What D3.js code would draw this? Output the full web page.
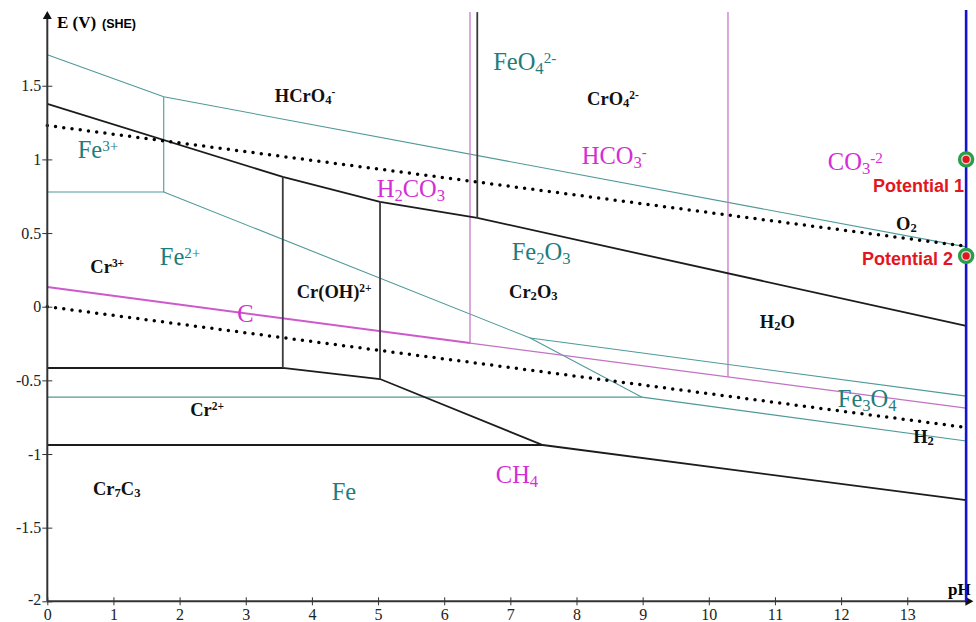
<!DOCTYPE html>
<html>
<head>
<meta charset="utf-8">
<script src="https://cdn.jsdelivr.net/npm/d3@7"></script>
<style>
  body { margin: 0; background: #fff; }
</style>
</head>
<body>
<div id="chart"></div>
<script>
// axis ticks
var phTicks = [0, 1, 2, 3, 4, 5, 6, 7, 8, 9, 10, 11, 12, 13];
var eTicks = [1.5, 1, 0.5, 0, -0.5, -1, -1.5, -2];

// Cr boundaries [pH, E]
var crUpper = [[0, 1.377], [3.56, 0.881], [5.03, 0.711], [6.50, 0.603], [13.89, -0.131]];
var crLower = [[0, -0.416], [3.56, -0.416], [5.03, -0.491], [7.49, -0.939], [13.89, -1.313]];
var crBase = [[0, -0.939], [7.49, -0.939]];
var crV1 = [[3.56, 0.881], [3.56, -0.416]];
var crV2 = [[5.03, 0.711], [5.03, -0.491]];
var crV3 = [[6.50, 2.0], [6.50, 0.603]];

// Fe boundaries
var feTop = [[0, 1.71], [1.76, 1.425], [13.89, 0.406]];
var feV = [[1.76, 1.425], [1.76, 0.779]];
var feH1 = [[0, 0.779], [1.76, 0.779]];
var feMid = [[1.76, 0.779], [7.30, -0.213], [8.99, -0.614], [13.89, -0.912]];
var feOx = [[7.30, -0.213], [13.89, -0.607]];
var feH2 = [[0, -0.614], [8.99, -0.614]];

// C boundaries
var cLeft = [[0, 0.134], [6.39, -0.247]];
var cRight = [[6.39, -0.247], [13.89, -0.688]];
var cV1 = [[6.39, -0.247], [6.39, 2.0]];
var cV2 = [[10.29, -0.478], [10.29, 2.0]];

// water stability lines
var waterO2 = [[0, 1.23], [13.89, 0.41]];
var waterH2 = [[0, 0], [13.89, -0.82]];

// measurement
var measurePH = 13.89;
var potentials = [1.0, 0.345];
var potentialNames = ["Potential 1", "Potential 2"];

// region labels
var labels = [
  { t: "HCrO_{4}^{-}", ph: 3.44, e: 1.39, kind: "cr" },
  { t: "CrO_{4}^{2-}", ph: 8.16, e: 1.37, kind: "cr" },
  { t: "O_{2}", ph: 12.83, e: 0.521, kind: "cr" },
  { t: "Cr^{3+}", ph: 0.65, e: 0.229, kind: "cr" },
  { t: "Cr(OH)^{2+}", ph: 3.77, e: 0.059, kind: "cr" },
  { t: "Cr_{2}O_{3}", ph: 6.98, e: 0.059, kind: "cr" },
  { t: "H_{2}O", ph: 10.77, e: -0.145, kind: "cr" },
  { t: "Cr^{2+}", ph: 2.16, e: -0.742, kind: "cr" },
  { t: "H_{2}", ph: 13.09, e: -0.925, kind: "cr" },
  { t: "Cr_{7}C_{3}", ph: 0.69, e: -1.279, kind: "cr" },
  { t: "FeO_{4}^{2-}", ph: 6.74, e: 1.607, kind: "fe" },
  { t: "Fe^{3+}", ph: 0.46, e: 1.009, kind: "fe" },
  { t: "Fe^{2+}", ph: 1.70, e: 0.283, kind: "fe" },
  { t: "Fe_{2}O_{3}", ph: 7.02, e: 0.317, kind: "fe" },
  { t: "Fe_{3}O_{4}", ph: 11.95, e: -0.681, kind: "fe" },
  { t: "Fe", ph: 4.30, e: -1.312, kind: "fe" },
  { t: "HCO_{3}^{-}", ph: 8.08, e: 0.969, kind: "c" },
  { t: "CO_{3}^{-2}", ph: 11.80, e: 0.928, kind: "c" },
  { t: "H_{2}CO_{3}", ph: 4.98, e: 0.745, kind: "c" },
  { t: "C", ph: 2.87, e: -0.104, kind: "c" },
  { t: "CH_{4}", ph: 6.78, e: -1.197, kind: "c" }
];

var W = 976, H = 622;
var serif = "'Liberation Serif', 'Times New Roman', serif";
var sans = "'Liberation Sans', Arial, sans-serif";

var svg = d3.select("#chart").append("svg")
  .attr("width", W).attr("height", H)
  .attr("font-family", serif);

var x = d3.scaleLinear().domain([0, 14]).range([47.3, 973.4]);
var y = d3.scaleLinear().domain([-2, 2]).range([601.3, 12.1]);

var line = d3.line().x(function (d) { return x(d[0]); }).y(function (d) { return y(d[1]); });

function draw(data, color, width) {
  return svg.append("path")
    .attr("d", line(data))
    .attr("fill", "none")
    .attr("stroke", color)
    .attr("stroke-width", width);
}

// Fe lines (teal)
var teal = "#4f9999";
[feTop, feV, feH1, feMid, feOx, feH2].forEach(function (d) { draw(d, teal, 1.1); });

// C lines (magenta)
draw(cLeft, "#cc5acc", 2);
draw(cRight, "#c272c2", 1.3);
draw(cV1, "#c67ac6", 1.3);
draw(cV2, "#c67ac6", 1.3);

// Cr lines (black)
[crUpper, crLower, crBase].forEach(function (d) { draw(d, "#1c1c1c", 1.8); });
[crV1, crV2, crV3].forEach(function (d) { draw(d, "#3a3a3a", 1.8); });

// water lines, dotted
[waterO2, waterH2].forEach(function (d) {
  draw(d, "#000", 3.5)
    .attr("stroke-dasharray", "0 8.3")
    .attr("stroke-linecap", "round");
});

// axes
var axisColor = "#333";
var xAxis = svg.append("g")
  .attr("transform", "translate(0," + y(-2) + ")")
  .call(d3.axisBottom(x).tickValues(phTicks).tickFormat(function (d) { return String(d); }).tickSize(4))
  .attr("font-family", serif).attr("font-size", 16);
xAxis.select(".domain").remove();
xAxis.selectAll(".tick line").attr("y1", -4).attr("stroke", axisColor);
xAxis.selectAll(".tick text")
  .attr("y", 7).attr("dy", "0.71em")
  .attr("fill", "#222");

var yAxis = svg.append("g")
  .attr("transform", "translate(" + x(0) + ",0)")
  .call(d3.axisLeft(y).tickValues(eTicks).tickFormat(function (d) { return String(d); }).tickSize(5))
  .attr("font-family", serif).attr("font-size", 16);
yAxis.select(".domain").remove();
yAxis.selectAll(".tick line").attr("x1", 5).attr("stroke", axisColor);
yAxis.selectAll(".tick text")
  .attr("x", -6)
  .attr("fill", "#222");
// the "-2" label sits a bit above the x-axis
yAxis.selectAll(".tick text").filter(function (d) { return d === -2; }).attr("dy", "0.2em");

svg.append("line")
  .attr("x1", x(0)).attr("x2", x(14) - 4)
  .attr("y1", y(-2)).attr("y2", y(-2))
  .attr("stroke", axisColor).attr("stroke-width", 2);
svg.append("line")
  .attr("x1", x(0)).attr("x2", x(0))
  .attr("y1", y(-2)).attr("y2", y(2) + 4)
  .attr("stroke", axisColor).attr("stroke-width", 2);

// arrow heads
svg.append("path")
  .attr("d", "M" + x(14) + "," + y(-2) + "l-8,-4.5v9z")
  .attr("fill", "#111");
svg.append("path")
  .attr("d", "M" + x(0) + "," + (y(2) - 1) + "l-4.5,8h9z")
  .attr("fill", "#111");

// axis titles
svg.append("text")
  .attr("x", 57).attr("y", 28)
  .attr("font-weight", "bold").attr("font-size", 17)
  .text("E (V)");
svg.append("text")
  .attr("x", 102).attr("y", 28)
  .attr("font-family", sans)
  .attr("font-weight", "bold").attr("font-size", 12.5)
  .text("(SHE)");
svg.append("text")
  .attr("x", 948).attr("y", 595)
  .attr("font-weight", "bold").attr("font-size", 17)
  .text("pH");

// region labels with sub / superscripts
var styles = {
  cr: { color: "#111", size: 18.5, weight: "bold", sub: 0.1, sup: -0.33 },
  fe: { color: "#1f7d7d", size: 24.5, weight: "normal", sub: 0.15, sup: -0.3 },
  c: { color: "#d42ed4", size: 24.5, weight: "normal", sub: 0.15, sup: -0.3 }
};

labels.forEach(function (lb) {
  var st = styles[lb.kind];
  var txt = svg.append("text")
    .attr("x", x(lb.ph)).attr("y", y(lb.e))
    .attr("fill", st.color)
    .attr("font-size", st.size)
    .attr("font-weight", st.weight);
  var re = /([_^])\{([^}]*)\}|([^_^]+)/g;
  var m, shift = 0;
  while ((m = re.exec(lb.t)) !== null) {
    var target = 0, fs = st.size, s;
    if (m[1] === "_") { target = st.sub * st.size; fs = st.size * 0.68; s = m[2]; }
    else if (m[1] === "^") { target = st.sup * st.size; fs = st.size * 0.62; s = m[2]; }
    else { s = m[3]; }
    txt.append("tspan")
      .attr("dy", target - shift)
      .attr("font-size", fs)
      .text(s);
    shift = target;
  }
});

// measurement line and potentials
svg.append("line")
  .attr("x1", x(measurePH)).attr("x2", x(measurePH))
  .attr("y1", y(2) - 2).attr("y2", y(-2))
  .attr("stroke", "#1414cf").attr("stroke-width", 2.6);

var pts = svg.selectAll(".pot").data(potentials).enter().append("g").attr("class", "pot");
pts.append("circle")
  .attr("cx", x(measurePH)).attr("cy", function (d) { return y(d); })
  .attr("r", 6.6)
  .attr("fill", "#d9d9d9").attr("stroke", "#2b9c47").attr("stroke-width", 3.2);
pts.append("circle")
  .attr("cx", x(measurePH)).attr("cy", function (d) { return y(d); })
  .attr("r", 3.6)
  .attr("fill", "#e3161e");
pts.append("text")
  .attr("x", function (d, i) { return i === 0 ? x(measurePH) - 2 : x(measurePH) - 13; })
  .attr("y", function (d) { return y(d) + (d > 0.5 ? 33 : 9); })
  .attr("text-anchor", "end")
  .attr("fill", "#e3161e")
  .attr("font-family", sans)
  .attr("font-weight", "bold").attr("font-size", 18)
  .text(function (d, i) { return potentialNames[i]; });
</script>
</body>
</html>
